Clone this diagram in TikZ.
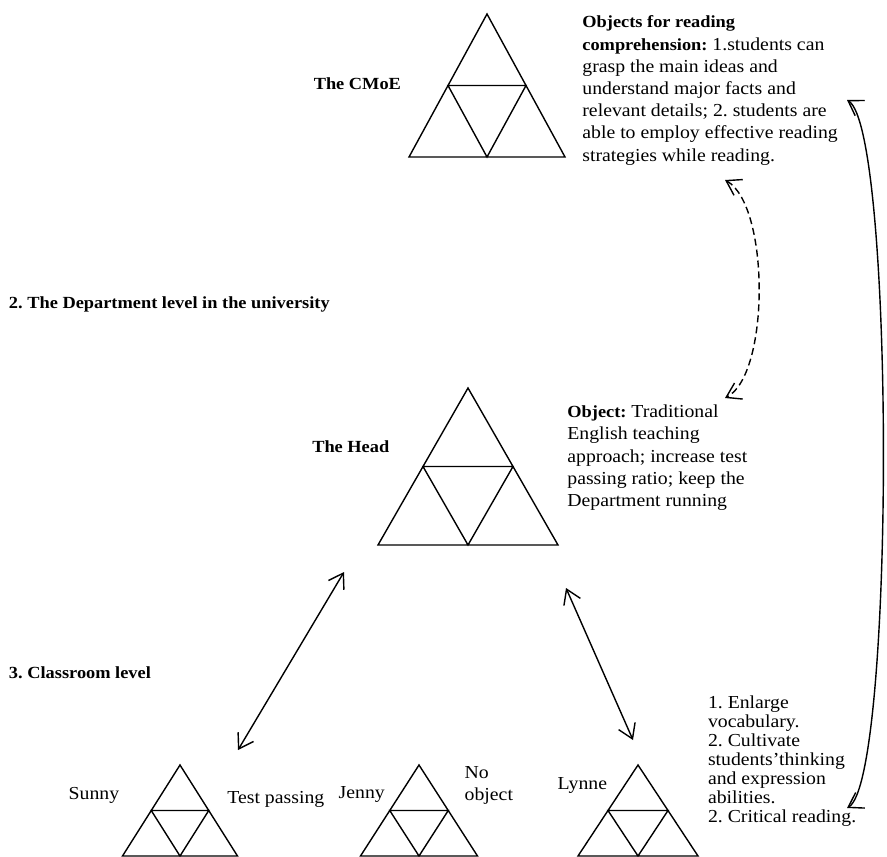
\documentclass[tikz,border=0pt]{standalone}
\usepackage{fontspec}
\setmainfont{Liberation Serif}[FakeStretch=1.08]
\usetikzlibrary{arrows.meta}
\frenchspacing

\newcommand\boldlead[1]{{\fontsize{17}{22.2}\selectfont\bfseries #1}}

\begin{document}
\begin{tikzpicture}[x=1pt,y=-1pt,
  line width=1.4pt,
  tri/.pic={
    \draw[line join=miter]
      (0,0) coordinate (-apex) -- (-0.5,1) -- (0.5,1) -- cycle
      (-0.25,0.5) -- (0.25,0.5) -- (0,1) coordinate (-base) -- cycle;
  },
  lbl/.style={inner sep=0pt, font=\fontsize{18.3}{22.2}\selectfont},
  headlbl/.style={inner sep=0pt, font=\fontsize{17}{22.2}\selectfont\bfseries},
  para/.style={lbl, align=left, anchor=north west},
  link/.style={{Straight Barb[length=14pt,width=18pt]}-{Straight Barb[length=14pt,width=18pt]}, line width=1.4pt},
]
\path[fill=white] (0,0) rectangle (887,857);
\useasboundingbox (0,0) rectangle (887,857);

% level triangles
\pic[xscale=156,yscale=143] (cmoe)  at (487,14)  {tri};
\pic[xscale=180,yscale=157] (head)  at (468,388) {tri};
\pic[xscale=115,yscale=91]  (sunny) at (180,765) {tri};
\pic[xscale=117,yscale=91]  (jenny) at (419,765) {tri};
\pic[xscale=120,yscale=91]  (lynne) at (638,765) {tri};

% level headings and actor names
\node[headlbl, anchor=base east] (tCMoE) at (401.7,89.3) {The CMoE};
\node[headlbl, anchor=base west] (lvl2) at (8.3,308.3) {2. The Department level in the university};
\node[headlbl, anchor=base east] (tHead) at (390,452.7) {The Head};
\node[headlbl, anchor=base west] (lvl3) at (8.3,678.3) {3. Classroom level};
\node[lbl, anchor=base west] (tSunny) at (68,799.3) {Sunny};
\node[lbl, anchor=base west] (tTest) at (226.7,803.3) {Test passing};
\node[lbl, anchor=base west] (tJenny) at (338,798.3) {Jenny};
\node[lbl, anchor=base west] (tLynne) at (557,789) {Lynne};

% objectives
\node[para] (objA) at (581.7,15.2) {\boldlead{Objects for reading}\\
\boldlead{comprehension:} 1.students can\\
grasp the main ideas and\\
understand major facts and\\
relevant details; 2. students are\\
able to employ effective reading\\
strategies while reading.};

\node[para] (objB) at (566.7,404.2) {\boldlead{Object:} Traditional\\
English teaching\\
approach; increase test\\
passing ratio; keep the\\
Department running};

\node[para, font=\fontsize{18.3}{21.7}\selectfont] (objJ) at (464,766.2) {No\\object};

\node[para, font=\fontsize{18.3}{19}\selectfont] (objL) at (707.3,694.8) {1. Enlarge\\
vocabulary.\\
2. Cultivate\\
students'thinking\\
and expression\\
abilities.\\
2. Critical reading.};

% connector end points
\coordinate (headSW) at (344,572);
\coordinate (sunnyTop) at (238,750);
\coordinate (headSE) at (566,588);
\coordinate (lynneTop) at (633,740);
\coordinate (objAfoot) at (725,180);
\coordinate (objBhead) at (725,398);
\coordinate (objAside) at (847,100);
\coordinate (objLside) at (847,808);

% connectors
\draw[link] (headSW) -- (sunnyTop);
\draw[link] (headSE) -- (lynneTop);
\draw[link, dash pattern=on 7pt off 4pt] (objAfoot) .. controls (770,205) and (770,375) .. (objBhead);
\draw[link] (objAside) .. controls (895,130) and (895,780) .. (objLside);
\end{tikzpicture}
\end{document}
